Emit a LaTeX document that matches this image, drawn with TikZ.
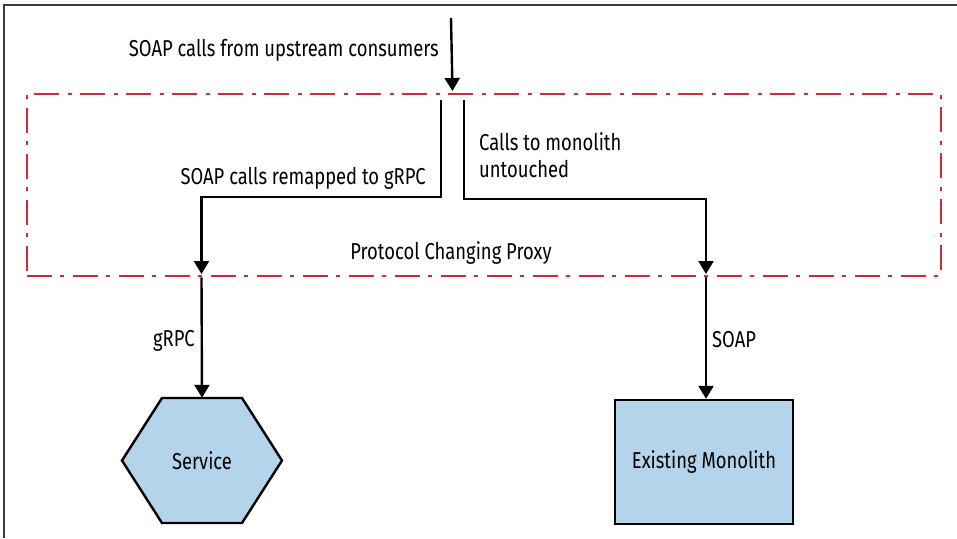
\documentclass[tikz,border=0pt]{standalone}
\usepackage{fontspec}
\setmainfont{Fira Sans}[FakeStretch=0.8]
\usetikzlibrary{arrows.meta,calc}
\definecolor{proxyred}{RGB}{208,42,52}
\definecolor{boxblue}{RGB}{179,212,234}
\definecolor{framegray}{RGB}{60,60,60}
\begin{document}
\begin{tikzpicture}[x=1pt,y=-1pt,
  lbl/.style={font=\fontsize{23}{27}\selectfont, inner sep=0pt, text=black},
  conn/.style={line width=2.4pt, draw=black, -{Triangle[width=15pt,length=13pt]}},
  proxybox/.style={draw=proxyred, line width=2.6pt, dash pattern=on 25pt off 8pt on 4pt off 9pt, minimum width=914pt, minimum height=182pt, inner sep=0pt},
  shapefill/.style={fill=boxblue, draw=black, line width=2.4pt},
  monobox/.style={shapefill, minimum width=178pt, minimum height=124pt, inner sep=0pt, font=\fontsize{23}{27}\selectfont},
  hexnode/.style={minimum width=160pt, minimum height=125pt, inner sep=0pt, font=\fontsize{23}{27}\selectfont}
]
\path[use as bounding box] (0,0) rectangle (957,538);
\draw[framegray, line width=1.5pt] (4,538) -- (4,5) -- (957,5);

% proxy
\node[proxybox] (proxy) at (484,185) {};
\node[lbl, anchor=base] (proxylbl) at (451,259) {Protocol Changing Proxy};

% top input
\coordinate (src) at (451,18);
\coordinate (in) at (452.5,91);
\draw[conn] (src) -- (in);
\node[lbl, anchor=base east] (srclbl) at (439,56) {SOAP calls from upstream consumers};

% left branch
\coordinate (a1) at (441,100);
\coordinate (a2) at (201.5,197);
\coordinate (a3) at (201.5,274);
\draw[conn] (a1) |- (a2) -- (a3);
\node[lbl, anchor=base east] (alb) at (426,184.5) {SOAP calls remapped to gRPC};

% right branch
\coordinate (b1) at (464,100);
\coordinate (b2) at (706,199);
\coordinate (b3) at (706,274);
\draw[conn] (b1) |- (b2) -- (b3);
\node[lbl, anchor=north west, align=left] (blb) at (479,132) {Calls to monolith\\untouched};

% service hexagon
\coordinate (sc) at (202,460.5);
\draw[shapefill] ($(sc)+(-80,0)$) -- ($(sc)+(-40,-62.5)$) -- ($(sc)+(40,-62.5)$) -- ($(sc)+(80,0)$) -- ($(sc)+(40,62.5)$) -- ($(sc)+(-40,62.5)$) -- cycle;
\node[hexnode] (svc) at (sc) {\raisebox{-2pt}{Service}};

% monolith
\node[monobox] (mono) at (704,462) {\raisebox{-1.5pt}{Existing Monolith}};

% outgoing arrows
\draw[conn] (a3 |- proxy.south) -- (svc.north);
\node[lbl, anchor=base east] (grpc) at (195,346) {gRPC};
\draw[conn] (b3 |- proxy.south) -- (b3 |- mono.north);
\node[lbl, anchor=base west] (soap) at (712,347) {SOAP};
\end{tikzpicture}
\end{document}
